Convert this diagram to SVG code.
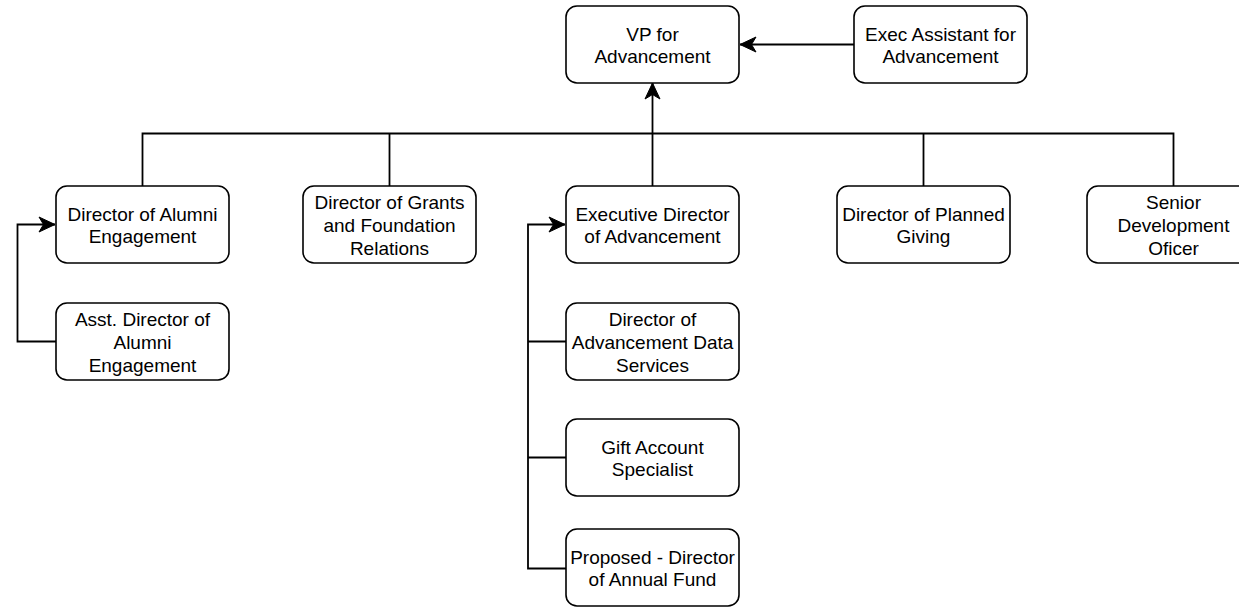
<svg xmlns="http://www.w3.org/2000/svg" width="1239" height="607" viewBox="0 0 1239 607">
  <style>
    .box { fill: #ffffff; stroke: #000000; stroke-width: 1.6; }
    .lbl { font-family: "Liberation Sans", Arial, Helvetica, sans-serif; font-size: 19px; fill: #000000; text-anchor: middle; }
    .edge { fill: none; stroke: #000000; stroke-width: 1.8; }
  </style>
  <defs>
    <marker id="arrow" markerUnits="userSpaceOnUse" markerWidth="1" markerHeight="1" refX="0" refY="0" orient="auto" overflow="visible">
      <path d="M0,0 L-16,-7.5 L-11.5,0 L-16,7.5 Z" fill="#000000" stroke="#000000" stroke-width="1" stroke-linejoin="miter"/>
    </marker>
  </defs>
  <rect x="0" y="0" width="1239" height="607" fill="#ffffff"/>

  <g id="connectors">
    <path class="edge" d="M854,44.5 H740" marker-end="url(#arrow)"/>
    <path class="edge" d="M142.5,186 V133.5 H1173.5 V186"/>
    <path class="edge" d="M389.5,133.5 V186"/>
    <path class="edge" d="M923.5,133.5 V186"/>
    <path class="edge" d="M652.5,186 V83" marker-end="url(#arrow)"/>
    <path class="edge" d="M56,341.5 H17.5 V224.5 H55" marker-end="url(#arrow)"/>
    <path class="edge" d="M566,568.5 H528 V224.5 H565" marker-end="url(#arrow)"/>
    <path class="edge" d="M566,341.5 H528"/>
    <path class="edge" d="M566,457.5 H528"/>
  </g>

  <g id="vp">
    <rect class="box" x="566" y="6" width="173" height="77" rx="11"/>
    <text class="lbl"><tspan x="652.5" y="40.6">VP for</tspan><tspan x="652.5" y="63.4">Advancement</tspan></text>
  </g>
  <g id="exec-assistant">
    <rect class="box" x="854" y="6" width="173" height="77" rx="11"/>
    <text class="lbl"><tspan x="940.5" y="40.6">Exec Assistant for</tspan><tspan x="940.5" y="63.4">Advancement</tspan></text>
  </g>
  <g id="alumni">
    <rect class="box" x="56" y="186" width="173" height="77" rx="11"/>
    <text class="lbl"><tspan x="142.5" y="220.6">Director of Alumni</tspan><tspan x="142.5" y="243.4">Engagement</tspan></text>
  </g>
  <g id="grants">
    <rect class="box" x="303" y="186" width="173" height="77" rx="11"/>
    <text class="lbl"><tspan x="389.5" y="209.2">Director of Grants</tspan><tspan x="389.5" y="232">and Foundation</tspan><tspan x="389.5" y="254.8">Relations</tspan></text>
  </g>
  <g id="exec-director">
    <rect class="box" x="566" y="186" width="173" height="77" rx="11"/>
    <text class="lbl"><tspan x="652.5" y="220.6">Executive Director</tspan><tspan x="652.5" y="243.4">of Advancement</tspan></text>
  </g>
  <g id="planned-giving">
    <rect class="box" x="837" y="186" width="173" height="77" rx="11"/>
    <text class="lbl"><tspan x="923.5" y="220.6">Director of Planned</tspan><tspan x="923.5" y="243.4">Giving</tspan></text>
  </g>
  <g id="senior-dev">
    <rect class="box" x="1087" y="186" width="173" height="77" rx="11"/>
    <text class="lbl"><tspan x="1173.5" y="209.2">Senior</tspan><tspan x="1173.5" y="232">Development</tspan><tspan x="1173.5" y="254.8">Oficer</tspan></text>
  </g>
  <g id="asst-alumni">
    <rect class="box" x="56" y="303" width="173" height="77" rx="11"/>
    <text class="lbl"><tspan x="142.5" y="326.2">Asst. Director of</tspan><tspan x="142.5" y="349">Alumni</tspan><tspan x="142.5" y="371.8">Engagement</tspan></text>
  </g>
  <g id="data-services">
    <rect class="box" x="566" y="303" width="173" height="77" rx="11"/>
    <text class="lbl"><tspan x="652.5" y="326.2">Director of</tspan><tspan x="652.5" y="349">Advancement Data</tspan><tspan x="652.5" y="371.8">Services</tspan></text>
  </g>
  <g id="gift-account">
    <rect class="box" x="566" y="419" width="173" height="77" rx="11"/>
    <text class="lbl"><tspan x="652.5" y="453.6">Gift Account</tspan><tspan x="652.5" y="476.4">Specialist</tspan></text>
  </g>
  <g id="annual-fund">
    <rect class="box" x="566" y="529" width="173" height="77" rx="11"/>
    <text class="lbl"><tspan x="652.5" y="563.6">Proposed - Director</tspan><tspan x="652.5" y="586.4">of Annual Fund</tspan></text>
  </g>
</svg>
